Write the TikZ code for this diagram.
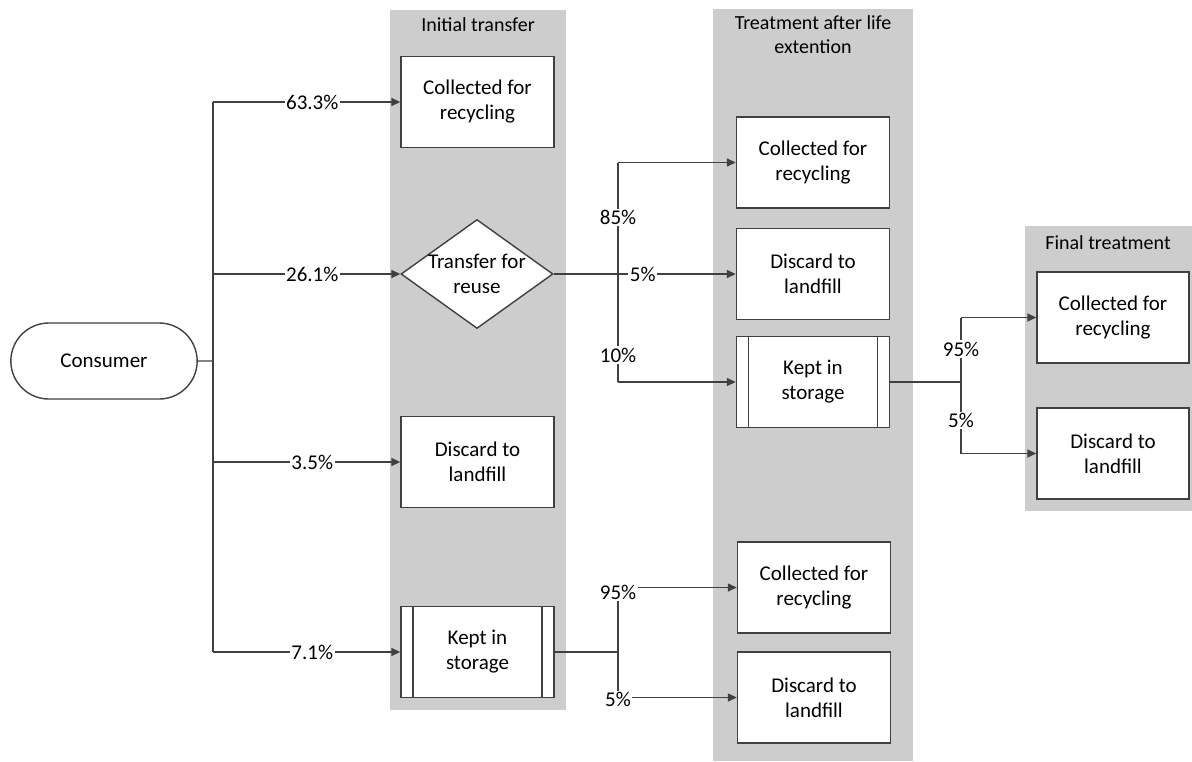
\documentclass[tikz,border=0pt]{standalone}
\usepackage{fontspec}
\setmainfont{Carlito}
\usetikzlibrary{arrows.meta, shapes.geometric, shapes.misc, calc}
\definecolor{lanegray}{RGB}{205,205,205}
\definecolor{linegray}{RGB}{64,64,64}
\tikzset{
  procbox/.style={draw=linegray, line width=1.4pt, fill=white, minimum width=153pt, minimum height=91pt, align=center, inner sep=0pt},
  storebox/.style={procbox, path picture={
      \draw[linegray, line width=1.4pt]
      ([xshift=12pt]path picture bounding box.south west) -- ([xshift=12pt]path picture bounding box.north west)
      ([xshift=-12pt]path picture bounding box.south east) -- ([xshift=-12pt]path picture bounding box.north east);}},
  decbox/.style={diamond, draw=linegray, line width=1.4pt, fill=white, minimum width=152pt, minimum height=109pt, inner sep=0pt},
  termbox/.style={rounded rectangle, draw=linegray, line width=1.4pt, fill=white, minimum width=193pt, minimum height=76pt},
  lanetitle/.style={align=center, font=\fontsize{20}{24}\selectfont},
  pct/.style={fill=white, inner sep=1.5pt},
  conn/.style={draw=linegray, line width=1.4pt},
  arr/.style={conn, -{Triangle[length=9pt,width=8pt]}}
}
\begin{document}
\begin{tikzpicture}[x=1pt, y=-1pt, font=\fontsize{21}{25}\selectfont]
  \useasboundingbox (0,0) rectangle (1192,761);
  \fill[lanegray] (390,10) rectangle (566,710);
  \fill[lanegray] (713,9) rectangle (913,761);
  \fill[lanegray] (1025,226) rectangle (1192,511);

  \node[lanetitle] (t1) at (478,25) {Initial transfer};
  \node[lanetitle] (t2) at (813,35) {Treatment after life\\extention};
  \node[lanetitle] (t3) at (1108,243) {Final treatment};

  \node[termbox] (cons) at (104,361) {Consumer};

  \node[procbox] (rec1) at (477.5,102) {Collected for\\recycling};
  \node[decbox, label={[align=center]center:Transfer for\\reuse}] (dec) at (477,274) {};
  \node[procbox] (dis1) at (477.5,462) {Discard to\\landfill};
  \node[storebox] (keep1) at (477.5,652) {Kept in\\storage};

  \node[procbox] (rec2) at (813,162.5) {Collected for\\recycling};
  \node[procbox] (dis2) at (813,274) {Discard to\\landfill};
  \node[storebox] (keep2) at (813,382) {Kept in\\storage};
  \node[procbox] (rec3) at (814,587.5) {Collected for\\recycling};
  \node[procbox] (dis3) at (814,697.5) {Discard to\\landfill};

  \node[procbox, minimum width=152pt] (rec4) at (1113,317.5) {Collected for\\recycling};
  \node[procbox, minimum width=152pt] (dis4) at (1113,453.5) {Discard to\\landfill};

  \coordinate (tr) at (213,361);
  \coordinate (bA) at (618,274);
  \coordinate (bB) at (618,652);
  \coordinate (bC) at (961,382);

  \draw[conn] (cons) -- (tr);
  \draw[conn] (tr |- rec1.west) -- (tr |- keep1.west);
  \draw[arr] (tr |- rec1.west) -- node[pct, pos=0.53] {63.3\%} (rec1.west);
  \draw[arr] (tr |- dec.west) -- node[pct, pos=0.53] {26.1\%} (dec.west);
  \draw[arr] (tr |- dis1.west) -- node[pct, pos=0.53] {3.5\%} (dis1.west);
  \draw[arr] (tr |- keep1.west) -- node[pct, pos=0.53] {7.1\%} (keep1.west);

  \draw[conn] (dec.east) -- (bA);
  \draw[conn] (bA |- rec2.west) -- node[pct, pos=0.25] {85\%} node[pct, pos=0.877] {10\%} (bA |- keep2.west);
  \draw[arr] (bA |- rec2.west) -- (rec2.west);
  \draw[arr] (bA) -- node[pct, pos=0.21] {5\%} (dis2.west);
  \draw[arr] (bA |- keep2.west) -- (keep2.west);

  \draw[conn] (keep1.east) -- (bB);
  \draw[conn] (bB |- rec3.west) -- (bB |- dis3.west);
  \draw[arr] (bB |- rec3.west) -- node[pct, at start, yshift=-5pt] {95\%} (rec3.west);
  \draw[arr] (bB |- dis3.west) -- node[pct, at start, yshift=-2pt] {5\%} (dis3.west);

  \draw[conn] (keep2.east) -- (bC);
  \draw[conn] (bC |- rec4.west) -- node[pct, pos=0.233] {95\%} node[pct, pos=0.759] {5\%} (bC |- dis4.west);
  \draw[arr] (bC |- rec4.west) -- (rec4.west);
  \draw[arr] (bC |- dis4.west) -- (dis4.west);
\end{tikzpicture}
\end{document}
